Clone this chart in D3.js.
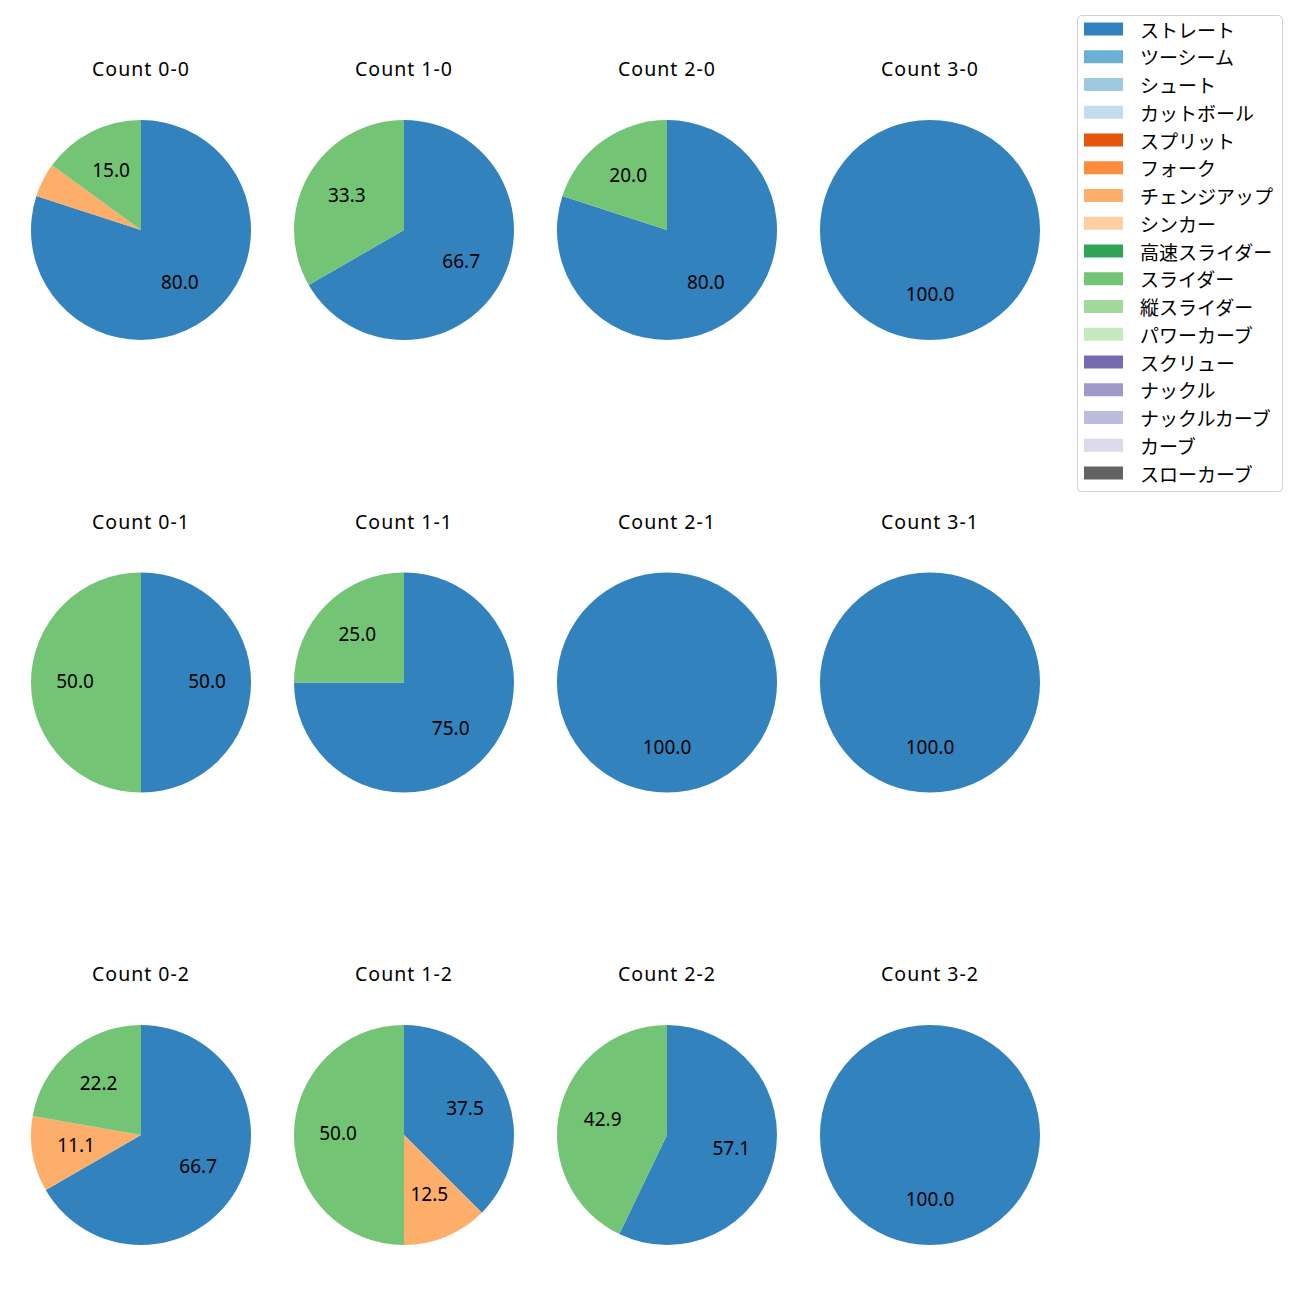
<!DOCTYPE html>
<html><head><meta charset="utf-8">
<script src="https://cdn.jsdelivr.net/npm/d3@7"></script>
<style>body{margin:0;background:#fff;} svg{display:block;}</style>
</head><body>
<svg id="c" width="1300" height="1300"></svg>
<script>
const pitchTypes = ["ストレート","ツーシーム","シュート","カットボール","スプリット","フォーク","チェンジアップ","シンカー","高速スライダー","スライダー","縦スライダー","パワーカーブ","スクリュー","ナックル","ナックルカーブ","カーブ","スローカーブ"];
const pitchColors = ["#3182bd","#6baed6","#9ecae1","#c6dbef","#e6550d","#fd8d3c","#fdae6b","#fdd0a2","#31a354","#74c476","#a1d99b","#c7e9c0","#756bb1","#9e9ac8","#bcbddc","#dadaeb","#636363"];
const counts = ["0-0","1-0","2-0","3-0","0-1","1-1","2-1","3-1","0-2","1-2","2-2","3-2"];
// pitch counts per situation
const straight = [16, 2, 4, 1, 1, 3, 1, 1, 6, 3, 4, 1];
const changeup = [ 1, 0, 0, 0, 0, 0, 0, 0, 1, 1, 0, 0];
const slider   = [ 3, 1, 1, 0, 1, 1, 0, 0, 2, 4, 3, 0];

const svg = d3.select("#c");
const font = "'Noto Sans', 'Noto Sans CJK JP', sans-serif";
const jfont = "'Noto Sans CJK JP', 'Noto Sans', sans-serif";
const colX = d3.scalePoint().domain([0,1,2,3]).range([141, 930]);
const rowY = d3.scalePoint().domain([0,1,2]).range([230, 1135]);
const R = 110;
const color = d3.scaleOrdinal().domain(pitchTypes).range(pitchColors);

const pie = d3.pie().sort(null).value(d => d.v).startAngle(0).endAngle(2*Math.PI);
const arc = d3.arc().innerRadius(0).outerRadius(R);
const labelArc = d3.arc().innerRadius(R*0.6).outerRadius(R*0.6);

counts.forEach((c, i) => {
  const col = i % 4, row = Math.floor(i / 4);
  const cx = colX(col), cy = rowY(row);
  const vals = pitchTypes.map(p => ({p, v: 0}));
  vals[0].v = straight[i];
  vals[6].v = changeup[i];
  vals[9].v = slider[i];
  const data = vals.filter(d => d.v > 0);
  const total = d3.sum(data, d => d.v);
  const g = svg.append("g").attr("transform", `translate(${cx},${cy})`);
  const arcs = pie(data);
  g.selectAll("path").data(arcs).enter().append("path")
    .attr("d", arc).attr("fill", d => color(d.data.p));
  g.selectAll("text.l").data(arcs).enter().append("text")
    .attr("class","l")
    .attr("transform", d => { const [x,y] = labelArc.centroid(d); return `translate(${x},${y - 1.5})`; })
    .attr("text-anchor","middle").attr("dy","0.36em")
    .style("font-family", font).style("font-size","19px").attr("fill","#000")
    .text(d => { const pct = d.data.v / total * 100; return pct >= 10 ? pct.toFixed(1) : ""; });
  svg.append("text").attr("x", cx).attr("y", cy - 161).attr("dy","0.36em")
    .attr("text-anchor","middle")
    .style("font-family", font).style("font-size","19.5px").style("letter-spacing","1px").attr("fill","#000")
    .text("Count " + c);
});

// legend
const lg = svg.append("g");
lg.append("rect").attr("x",1077.5).attr("y",15.5).attr("width",205).attr("height",476)
  .attr("rx",4).attr("fill","#fff").attr("stroke","#d0d0d0").attr("stroke-width",1);
const ly = d3.scalePoint().domain(pitchTypes).range([29, 473]);
pitchTypes.forEach(p => {
  lg.append("rect").attr("x",1084).attr("y",ly(p)-6.5).attr("width",39).attr("height",13).attr("fill",color(p));
  lg.append("text").attr("x",1140).attr("y",ly(p)).attr("dominant-baseline","central")
    .style("font-family", jfont).style("font-size","19px").attr("fill","#000").text(p);
});
</script>
</body></html>
